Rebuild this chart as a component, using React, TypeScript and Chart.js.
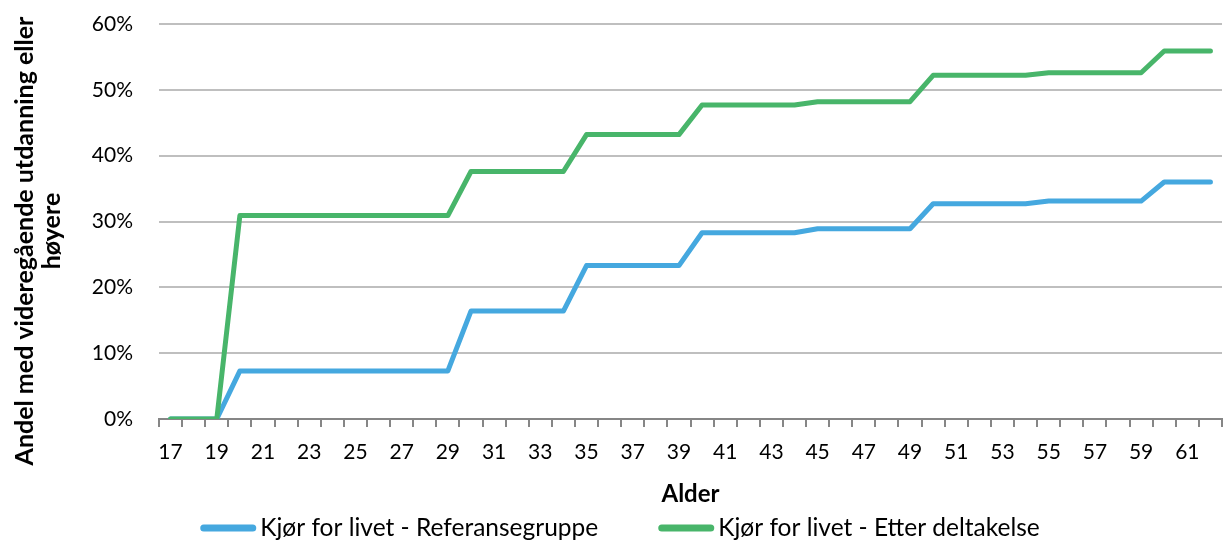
import React, { useEffect, useRef } from "react";
import { Chart, registerables } from "chart.js";

Chart.register(...registerables);

const ages: string[] = [
  "17", "18", "19", "20", "21", "22", "23", "24", "25", "26", "27", "28", "29",
  "30", "31", "32", "33", "34", "35", "36", "37", "38", "39", "40", "41", "42",
  "43", "44", "45", "46", "47", "48", "49", "50", "51", "52", "53", "54", "55",
  "56", "57", "58", "59", "60", "61", "62",
];

const referanse: number[] = [
  0, 0, 0,
  7.3, 7.3, 7.3, 7.3, 7.3, 7.3, 7.3, 7.3, 7.3, 7.3,
  16.4, 16.4, 16.4, 16.4, 16.4,
  23.3, 23.3, 23.3, 23.3, 23.3,
  28.3, 28.3, 28.3, 28.3, 28.3,
  28.9, 28.9, 28.9, 28.9, 28.9,
  32.7, 32.7, 32.7, 32.7, 32.7,
  33.1, 33.1, 33.1, 33.1, 33.1,
  36.0, 36.0, 36.0,
];

const etter: number[] = [
  0, 0, 0,
  30.9, 30.9, 30.9, 30.9, 30.9, 30.9, 30.9, 30.9, 30.9, 30.9,
  37.6, 37.6, 37.6, 37.6, 37.6,
  43.2, 43.2, 43.2, 43.2, 43.2,
  47.7, 47.7, 47.7, 47.7, 47.7,
  48.2, 48.2, 48.2, 48.2, 48.2,
  52.2, 52.2, 52.2, 52.2, 52.2,
  52.6, 52.6, 52.6, 52.6, 52.6,
  55.9, 55.9, 55.9,
];

const seriesNames = ["Kjør for livet - Referansegruppe", "Kjør for livet - Etter deltakelse"];
const yTitleLines = ["Andel med videregående utdanning eller", "høyere"];
const xTitle = "Alder";

const BLUE = "#45A8DF";
const GREEN = "#48B56A";
const FONT = "Lato, 'Noto Sans', sans-serif";

const yTitlePlugin = {
  id: "yTitlePlugin",
  afterDraw(chart: any) {
    const ctx = chart.ctx;
    ctx.save();
    ctx.fillStyle = "#000";
    ctx.font = `bold 25px ${FONT}`;
    ctx.textAlign = "center";
    ctx.textBaseline = "alphabetic";
    const baselines = [33, 60];
    const centers = [241, 231];
    yTitleLines.forEach((line, i) => {
      ctx.save();
      ctx.translate(baselines[i], centers[i]);
      ctx.rotate(-Math.PI / 2);
      ctx.fillText(line, 0, 0);
      ctx.restore();
    });
    ctx.restore();
  },
};

const legendPlugin = {
  id: "customLegend",
  afterDraw(chart: any) {
    const ctx = chart.ctx;
    const boxW = 56;
    const boxH = 7;
    const gapText = 4;
    const gapItems = 60;
    const cy = 528;
    const centerX = 620;
    ctx.save();
    ctx.font = `24.5px ${FONT}`;
    const datasets = chart.data.datasets;
    const widths = datasets.map((d: any) => ctx.measureText(d.label).width);
    const total = widths.reduce((a: number, w: number) => a + boxW + gapText + w, 0) + gapItems * (datasets.length - 1);
    let x = centerX - total / 2;
    datasets.forEach((d: any, i: number) => {
      ctx.strokeStyle = d.borderColor;
      ctx.lineWidth = boxH;
      ctx.lineCap = "round";
      ctx.beginPath();
      ctx.moveTo(x + boxH / 2, cy);
      ctx.lineTo(x + boxW - boxH / 2, cy);
      ctx.stroke();
      ctx.fillStyle = "#000";
      ctx.textAlign = "left";
      ctx.textBaseline = "middle";
      ctx.fillText(d.label, x + boxW + gapText, cy);
      x += boxW + gapText + widths[i] + gapItems;
    });
    ctx.restore();
  },
};

export default function App() {
  const ref = useRef<HTMLCanvasElement | null>(null);

  useEffect(() => {
    document.body.style.margin = "0";
    const canvas = ref.current;
    if (!canvas) return;
    const chart = new Chart(canvas, {
      type: "line",
      data: {
        labels: ages,
        datasets: [
          {
            label: seriesNames[0],
            data: referanse,
            borderColor: BLUE,
            backgroundColor: BLUE,
            borderWidth: 5,
            pointRadius: 0,
            tension: 0,
            borderCapStyle: "round",
            borderJoinStyle: "round",
            order: 1,
          },
          {
            label: seriesNames[1],
            data: etter,
            borderColor: GREEN,
            backgroundColor: GREEN,
            borderWidth: 5,
            pointRadius: 0,
            tension: 0,
            borderCapStyle: "round",
            borderJoinStyle: "round",
            order: 0,
          },
        ],
      },
      options: {
        animation: false,
        responsive: false,
        maintainAspectRatio: false,
        layout: { padding: { left: 0, top: 24, right: 1, bottom: 34 } },
        plugins: {
          tooltip: { enabled: false },
          legend: { display: false },
        },
        scales: {
          x: {
            offset: true,
            afterFit: (scale: any) => {
              scale.paddingLeft = 0;
              scale.paddingRight = 0;
            },
            grid: {
              offset: true,
              drawOnChartArea: false,
              drawTicks: true,
              tickLength: 8,
              color: "#868686",
              lineWidth: 2,
            },
            border: { display: true, color: "#868686", width: 2 },
            ticks: {
              autoSkip: false,
              maxRotation: 0,
              color: "#000",
              padding: 13,
              font: { family: FONT, size: 21 },
              callback: (_v: any, i: number) => (i % 2 === 0 ? ages[i] : ""),
            },
            title: {
              display: true,
              text: xTitle,
              color: "#000",
              font: { family: FONT, size: 24, weight: "bold" },
              padding: { top: 2, bottom: 0 },
            },
          },
          y: {
            min: 0,
            max: 60,
            afterFit: (scale: any) => {
              scale.width = 159;
              scale.paddingTop = 0;
              scale.paddingBottom = 0;
            },
            ticks: {
              stepSize: 10,
              color: "#000",
              padding: 26,
              font: { family: FONT, size: 21 },
              callback: (v: any) => `${v}%`,
            },
            grid: { color: "#BFBFBF", lineWidth: 2, drawTicks: false },
            border: { display: false },
          },
        },
      },
      plugins: [yTitlePlugin, legendPlugin],
    });
    return () => chart.destroy();
  }, []);

  return (
    <div style={{ width: 1223, height: 543, background: "#fff" }}>
      <canvas ref={ref} width={1223} height={543} style={{ width: 1223, height: 543, display: "block" }} />
    </div>
  );
}
